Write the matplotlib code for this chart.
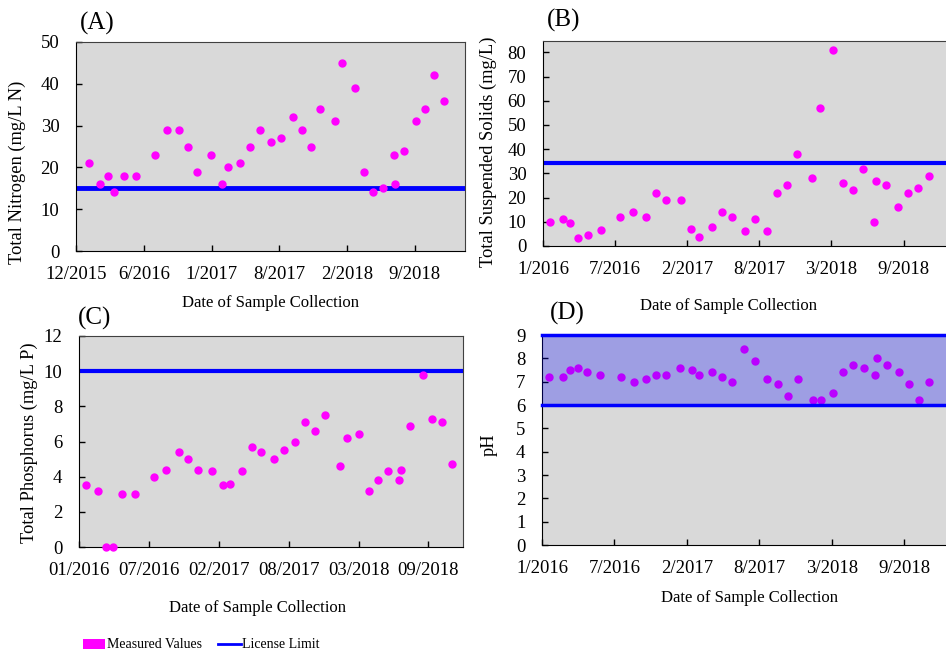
import numpy as np
import matplotlib
matplotlib.use("Agg")
import matplotlib.pyplot as plt
from matplotlib.patches import Patch
from matplotlib.lines import Line2D

plt.rcParams['font.family'] = ['Liberation Serif', 'DejaVu Serif']

# sample days counted from the start of each x axis
days_A = [39, 72, 95, 115, 144, 181, 238, 275, 309, 337, 365, 405, 438, 459, 494, 524, 553, 587,
          617, 652, 680, 708, 736, 781, 801, 839, 867, 895, 923, 956, 960, 988, 1022, 1051, 1079, 1107]
tn = [21, 16, 18, 14, 18, 18, 23, 29, 29, 25, 19, 23, 16, 20, 21, 25, 29, 26,
      27, 32, 29, 25, 34, 31, 45, 39, 19, 14, 15, 23, 16, 24, 31, 34, 42, 36]

days_B = [20, 57, 77, 100, 126, 163, 219, 255, 290, 319, 348, 389, 420, 441, 478, 506, 534, 570,
          599, 633, 661, 690, 719, 762, 783, 820, 849, 877, 906, 936, 941, 970, 1005, 1033, 1062, 1091]
tss = [10, 11, 9.5, 3.5, 4.5, 6.5, 12, 14, 12, 22, 19, 19, 7, 3.8, 8, 14, 12, 6,
       11, 6.3, 22, 25, 38, 28, 57, 81, 26, 23, 32, 10, 27, 25, 16, 22, 24, 29]

days_C = [20, 55, 80, 99, 126, 163, 220, 255, 291, 318, 348, 389, 420, 441, 477, 506, 532, 568,
          597, 632, 660, 689, 718, 762, 782, 817, 847, 874, 903, 935, 939, 966, 1003, 1031, 1060, 1088]
tp = [3.5, 3.2, 0, 0, 3.0, 3.0, 4.0, 4.4, 5.4, 5.0, 4.4, 4.3, 3.5, 3.6, 4.3, 5.7, 5.4, 5.0,
      5.5, 6.0, 7.1, 6.6, 7.5, 4.6, 6.2, 6.4, 3.2, 3.8, 4.3, 3.8, 4.4, 6.9, 9.8, 7.3, 7.1, 4.7]

days_D = [21, 58, 80, 100, 128, 164, 222, 258, 292, 321, 348, 389, 422, 442, 478, 507, 534, 569,
          600, 634, 663, 692, 720, 764, 784, 819, 848, 876, 906, 936, 942, 970, 1005, 1033, 1062, 1090]
ph = [7.2, 7.2, 7.5, 7.6, 7.4, 7.3, 7.2, 7.0, 7.1, 7.3, 7.3, 7.6, 7.5, 7.3, 7.4, 7.2, 7.0, 8.4,
      7.9, 7.1, 6.9, 6.4, 7.1, 6.2, 6.2, 6.5, 7.4, 7.7, 7.6, 7.3, 8.0, 7.7, 7.4, 6.9, 6.2, 7.0]

labels_A = ['12/2015', '6/2016', '1/2017', '8/2017', '2/2018', '9/2018']
labels_BD = ['1/2016', '7/2016', '2/2017', '8/2017', '3/2018', '9/2018']
labels_C = ['01/2016', '07/2016', '02/2017', '08/2017', '03/2018', '09/2018']

limit_tn = 15
limit_tss = 34.3
limit_tp = 10
limit_ph = [6, 9]

step = 204  # days between date ticks
W, H = 946, 652
fig = plt.figure(figsize=(W / 100, H / 100), dpi=100)

def box(l, t, r, b):
    return [l / W, 1 - b / H, (r - l) / W, (b - t) / H]

def setup(ax, xmax, ymax, yticks, xlabels, ylabel, letter, xl, yl, let_xy):
    ax.set_facecolor('#d9d9d9')
    ax.set_xlim(0, xmax)
    ax.set_ylim(0, ymax)
    ax.set_yticks(yticks)
    ax.set_xticks([i * step for i in range(len(xlabels))])
    ax.set_xticklabels(xlabels)
    ax.tick_params(direction='in', length=4, width=1, labelsize=13.5)
    ax.tick_params(axis='x', pad=11)
    ax.tick_params(axis='y', pad=12)
    for s in ['top', 'right']:
        ax.spines[s].set_color('#404040')
    ax.set_xlabel('Date of Sample Collection', fontsize=12)
    ax.xaxis.set_label_coords(*xl)
    ax.set_ylabel(ylabel, fontsize=13.3)
    ax.yaxis.set_label_coords(*yl)
    fig.text(let_xy[0] / W, 1 - let_xy[1] / H, letter, fontsize=18, ha='center', va='center')

# (A)
ax1 = fig.add_axes(box(76, 42, 465, 251))
ax1.plot(days_A, tn, 'o', color='#ff00ff', markersize=5, zorder=3)
ax1.axhline(limit_tn, color='#0000ff', lw=3.5, zorder=2)
setup(ax1, 1171, 50, range(0, 51, 10), labels_A, 'Total Nitrogen (mg/L N)', '(A)',
      (0.5, -0.21), (-0.129, 0.378), (97, 23))

# (B)
ax2 = fig.add_axes(box(543, 41, 957, 246))
ax2.plot(days_B, tss, 'o', color='#ff00ff', markersize=5, zorder=3)
ax2.axhline(limit_tss, color='#0000ff', lw=3, zorder=2)
setup(ax2, 1171, 84.7, range(0, 81, 10), labels_BD, 'Total Suspended Solids (mg/L)', '(B)',
      (0.447, -0.254), (-0.111, 0.459), (564, 20))

# (C)
ax3 = fig.add_axes(box(79, 336, 463, 547))
ax3.plot(days_C, tp, 'o', color='#ff00ff', markersize=5, zorder=3, clip_on=False)
ax3.axhline(limit_tp, color='#0000ff', lw=3, zorder=2)
setup(ax3, 1121, 12, range(0, 13, 2), labels_C, 'Total Phosphorus (mg/L P)', '(C)',
      (0.466, -0.251), (-0.107, 0.493), (95, 318))

# (D)
ax4 = fig.add_axes(box(542, 335, 958, 545))
ax4.plot(days_D, ph, 'o', color='#ff00ff', markersize=5, zorder=2)
ax4.axhspan(limit_ph[0], limit_ph[1], color='#0000ff', alpha=0.27, lw=0, zorder=3)
for v in limit_ph:
    ax4.axhline(v, color='#0000ff', lw=2.5, zorder=4, clip_on=False)
setup(ax4, 1171, 9, range(0, 10), labels_BD, 'pH', '(D)',
      (0.498, -0.214), (-0.106, 0.476), (567, 313))

handles = [Patch(facecolor='#ff00ff', edgecolor='none'), Line2D([], [], color='#0000ff', lw=2)]
fig.legend(handles, ['Measured Values', 'License Limit'], loc='center left',
           bbox_to_anchor=(83 / W, 1 - 645 / H), ncol=2, frameon=False, fontsize=10,
           borderpad=0, borderaxespad=0, handlelength=1.6, handleheight=0.7,
           handletextpad=0.1, columnspacing=1.2)

fig.savefig('out.png', dpi=100)
